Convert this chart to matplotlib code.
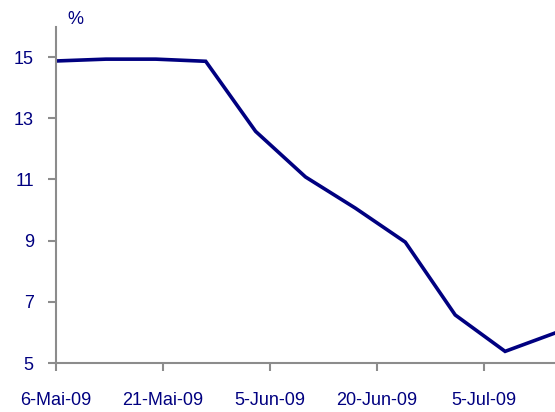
import numpy as np
import pandas as pd
import matplotlib
matplotlib.use('Agg')
import matplotlib.pyplot as plt
import matplotlib.dates as mdates

# weekly values
dates = pd.to_datetime(['2009-05-06', '2009-05-13', '2009-05-20', '2009-05-27',
                        '2009-06-03', '2009-06-10', '2009-06-17', '2009-06-24',
                        '2009-07-01', '2009-07-08', '2009-07-15'])
values = [14.87, 14.93, 14.93, 14.86, 12.57, 11.08, 10.06, 8.95, 6.57, 5.38, 5.98]

tick_dates = pd.to_datetime(['2009-05-06', '2009-05-21', '2009-06-05',
                             '2009-06-20', '2009-07-05'])
tick_labels = ['6-Mai-09', '21-Mai-09', '5-Jun-09', '20-Jun-09', '5-Jul-09']
y_ticks = [5, 7, 9, 11, 13, 15]

navy = '#000080'
grey = '#8c8c8c'

plt.rcParams['font.family'] = ['Liberation Sans', 'DejaVu Sans']

fig = plt.figure(figsize=(5.55, 4.12), dpi=100)
ax = fig.add_axes([56 / 555, 49 / 412, 499 / 555, 336 / 412])

ax.plot(dates, values, color=navy, linewidth=2.6, solid_joinstyle='miter')

ax.set_xlim(pd.Timestamp('2009-05-06'), pd.Timestamp('2009-07-15'))
ax.set_ylim(5, 15 + 30 / 30.6)

ax.set_xticks(tick_dates)
ax.set_xticklabels(tick_labels)
ax.set_yticks(y_ticks)

for s in ['top', 'right']:
    ax.spines[s].set_visible(False)
for s in ['left', 'bottom']:
    ax.spines[s].set_color(grey)
    ax.spines[s].set_linewidth(1.5)

ax.tick_params(axis='both', colors=grey, length=6, width=1.5, direction='out',
               labelcolor=navy, labelsize=13)
ax.tick_params(axis='x', pad=15)
ax.tick_params(axis='y', pad=10)

fig.text(75 / 555, 1 - 20 / 412, '%', color=navy, fontsize=13,
         ha='center', va='center')

fig.savefig('out.png', dpi=100)
